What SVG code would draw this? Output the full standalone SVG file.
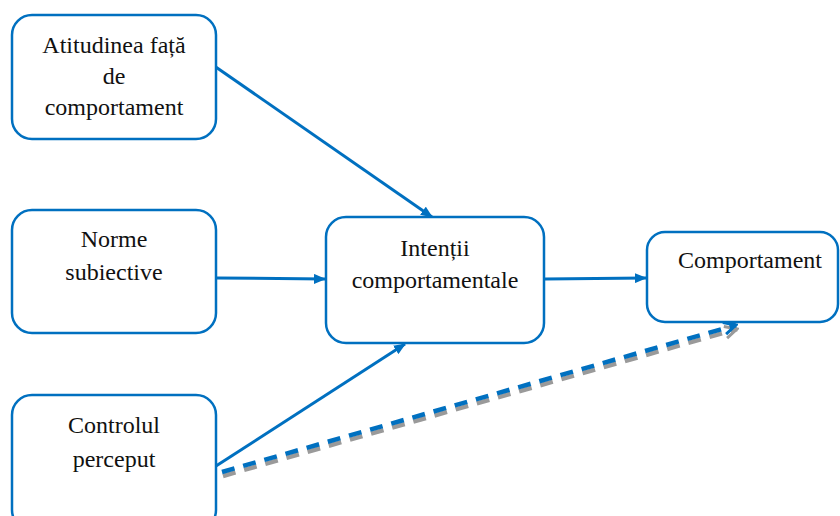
<svg xmlns="http://www.w3.org/2000/svg" width="840" height="516" viewBox="0 0 840 516">
<defs>
<style>
.box{fill:#fff;stroke:#0070C0;stroke-width:2.5}
.t{font-family:'Liberation Serif','Times New Roman',serif;font-size:24px;fill:#111;text-anchor:middle}
.c{stroke:#0070C0;stroke-width:3;fill:none}
.d{stroke:#0070C0;stroke-width:4.5;fill:none;stroke-dasharray:13 9}
.ds{stroke:#9a9a9a;stroke-width:4.5;fill:none;stroke-dasharray:13 9}
</style>
<marker id="ah" markerWidth="12" markerHeight="10" refX="11" refY="5" orient="auto" markerUnits="userSpaceOnUse">
<path d="M0,0 L12,5 L0,10 Z" fill="#0070C0"/>
</marker>
<marker id="oh" markerWidth="16" markerHeight="16" refX="14" refY="8" orient="auto" markerUnits="userSpaceOnUse">
<path d="M2,2 L14,8 L2,14" fill="none" stroke="#0070C0" stroke-width="3"/>
</marker>
<marker id="ohs" markerWidth="16" markerHeight="16" refX="14" refY="8" orient="auto" markerUnits="userSpaceOnUse">
<path d="M2,2 L14,8 L2,14" fill="none" stroke="#9a9a9a" stroke-width="3"/>
</marker>
</defs>
<rect width="840" height="516" fill="#fff"/>
<g id="connectors">
<line class="c" x1="210" y1="63" x2="432" y2="217" marker-end="url(#ah)"/>
<line class="c" x1="217" y1="278" x2="325" y2="279" marker-end="url(#ah)"/>
<line class="c" x1="545" y1="279" x2="646" y2="278" marker-end="url(#ah)"/>
<line class="c" x1="216" y1="466" x2="405" y2="344" marker-end="url(#ah)"/>
<line class="ds" x1="223" y1="476" x2="737" y2="329" marker-end="url(#ohs)"/>
<line class="d" x1="222" y1="472" x2="736" y2="325" marker-end="url(#oh)"/>
</g>
<g id="atitudinea">
<rect class="box" x="12" y="15" width="204" height="124" rx="20"/>
<text class="t" x="114" y="53">Atitudinea față</text>
<text class="t" x="114" y="84">de</text>
<text class="t" x="114" y="115">comportament</text>
</g>
<g id="norme">
<rect class="box" x="12" y="210" width="204" height="123" rx="20"/>
<text class="t" x="114" y="247">Norme</text>
<text class="t" x="114" y="280">subiective</text>
</g>
<g id="controlul">
<rect class="box" x="12" y="395" width="204" height="135" rx="20"/>
<text class="t" x="114" y="433">Controlul</text>
<text class="t" x="114" y="467">perceput</text>
</g>
<g id="intentii">
<rect class="box" x="326" y="217" width="218" height="126" rx="20"/>
<text class="t" x="435" y="256">Intenții</text>
<text class="t" x="435" y="288">comportamentale</text>
</g>
<g id="comportament">
<rect class="box" x="647" y="232" width="191" height="90" rx="18"/>
<text class="t" x="750" y="268">Comportament</text>
</g>
</svg>
